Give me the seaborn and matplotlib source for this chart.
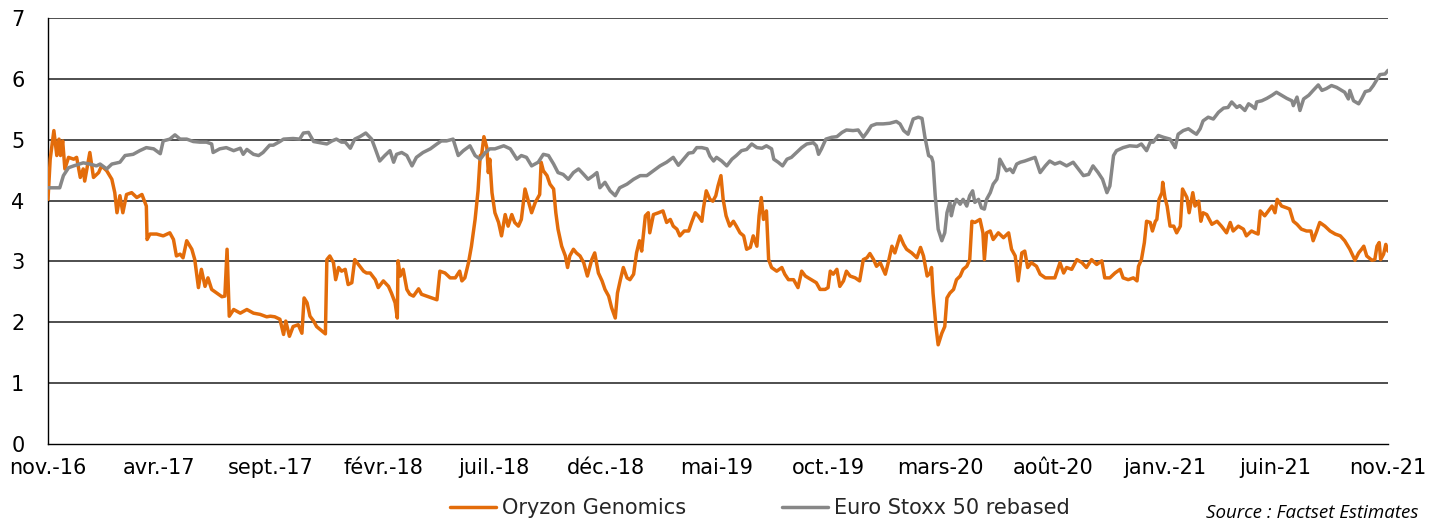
import matplotlib
matplotlib.use("Agg")
import matplotlib.pyplot as plt
import seaborn as sns
import pandas as pd
import numpy as np
from matplotlib.lines import Line2D

# ---------------- data (days since 2016-11-01, value) ----------------
oryzon = [
    (0,4.02),(3,4.68),(8,5.15),(12,4.74),(15,5.01),(17,4.74),(20,4.98),(23,4.52),(28,4.71),(35,4.68),(39,4.71),(44,4.38),(48,4.52),(50,4.32),(57,4.79),(62,4.38),(69,4.46),(73,4.57),(80,4.49),(87,4.35),(91,4.13),(94,3.80),(98,4.08),(102,3.80),(107,4.10),(114,4.13),(121,4.05),(128,4.10),(134,3.91),(135,3.36),(139,3.45),(148,3.45),(157,3.42),(166,3.47),(171,3.36),(175,3.09),(180,3.12),(184,3.06),(189,3.34),(196,3.20),(200,3.03),(205,2.57),(209,2.87),(214,2.59),(218,2.73),(223,2.54),(230,2.48),(237,2.42),(241,2.43),(244,3.20),(247,2.10),(253,2.21),(262,2.15),(271,2.21),(280,2.15),(289,2.13),(298,2.09),
    (303,2.10),(309,2.09),(316,2.05),(321,1.80),(324,2.02),(329,1.77),(334,1.93),(341,1.96),(346,1.82),(349,2.40),(353,2.32),(357,2.10),(362,2.02),(366,1.93),(371,1.88),(378,1.81),(380,3.03),(384,3.09),(389,2.98),(392,2.70),(396,2.90),(400,2.84),(405,2.87),(409,2.62),(414,2.65),(418,3.03),(423,2.95),(430,2.84),(434,2.81),(439,2.81),(446,2.70),(450,2.57),(457,2.68),(464,2.59),(468,2.48),(473,2.32),(476,2.07),(477,3.01),(480,2.76),(484,2.87),(489,2.54),(493,2.46),(498,2.43),(505,2.55),(509,2.46),(516,2.43),(523,2.40),(530,2.37),(534,2.84),(541,2.81),(548,2.73),(555,2.73),(561,2.84),(564,2.68),(568,2.73),(573,2.98),(577,3.25),(582,3.69),(586,4.16),(589,4.74),(591,4.76),(594,5.05),(598,4.87),(600,4.46),(602,4.68),
    (605,4.13),(609,3.80),(614,3.64),(618,3.42),(623,3.77),(627,3.58),(632,3.77),(636,3.64),(641,3.58),(645,3.69),(650,4.19),(655,3.97),(659,3.80),(664,3.97),(670,4.10),(672,4.63),(675,4.49),(680,4.41),(684,4.27),(689,4.19),(692,3.80),(695,3.53),(700,3.25),(705,3.09),(708,2.90),(711,3.09),(716,3.20),(720,3.14),(725,3.09),(730,2.98),(735,2.76),(741,3.03),(745,3.14),(750,2.81),(755,2.68),(759,2.54),(764,2.43),(768,2.24),(773,2.07),(776,2.48),(780,2.70),(784,2.90),(789,2.73),(793,2.70),(798,2.79),(802,3.14),(806,3.34),(809,3.17),(814,3.75),(818,3.80),(820,3.47),(825,3.77),(832,3.80),(838,3.83),(843,3.64),(848,3.69),(852,3.58),(857,3.53),(861,3.42),(867,3.50),(873,3.50),(877,3.64),(882,3.80),(886,3.75),(891,3.66),(893,3.86),(897,4.16),(902,4.02),
    (906,3.99),(910,4.08),(913,4.24),(917,4.41),(920,4.02),(924,3.75),(929,3.58),(934,3.66),(938,3.58),(943,3.47),(948,3.42),(952,3.20),(957,3.23),(961,3.42),(966,3.25),(969,3.75),(972,4.05),(975,3.69),(979,3.83),(982,3.03),(986,2.90),(993,2.84),(1000,2.90),(1004,2.79),(1009,2.70),(1016,2.70),(1022,2.57),(1027,2.84),(1032,2.76),(1036,2.73),(1043,2.68),(1047,2.65),(1052,2.54),(1059,2.54),(1063,2.57),(1066,2.84),(1070,2.79),(1075,2.87),(1079,2.59),(1084,2.68),(1088,2.84),(1093,2.76),(1100,2.73),(1106,2.68),(1111,3.03),(1116,3.06),(1120,3.13),(1125,3.03),(1129,2.92),(1134,2.98),(1141,2.79),(1145,2.98),(1150,3.25),(1154,3.14),(1161,3.42),(1166,3.28),(1170,3.20),(1177,3.14),(1184,3.06),(1189,3.23),(1193,3.09),(1198,2.76),(1202,2.81),
    (1204,2.90),(1206,2.48),(1210,1.93),(1213,1.63),(1218,1.82),(1222,1.93),(1225,2.40),(1229,2.48),(1234,2.54),(1238,2.70),(1243,2.76),(1247,2.87),(1252,2.92),(1256,3.03),(1259,3.66),(1263,3.64),(1270,3.69),(1274,3.47),(1276,3.03),(1279,3.47),(1284,3.50),(1288,3.36),(1295,3.47),(1302,3.39),(1309,3.47),(1313,3.20),(1318,3.09),(1322,2.68),(1327,3.14),(1331,3.17),(1335,2.90),(1340,2.98),(1347,2.92),(1352,2.79),(1359,2.73),(1365,2.73),(1372,2.73),(1379,2.98),(1384,2.81),(1388,2.90),(1395,2.87),(1402,3.03),(1409,2.98),(1415,2.90),(1422,3.03),(1429,2.95),(1436,3.01),(1440,2.73),(1447,2.73),(1454,2.81),(1461,2.87),(1465,2.73),(1472,2.70),(1479,2.73),(1484,2.68),(1486,2.92),(1490,3.03),(1494,3.31),(1497,3.66),(1502,3.64),
    (1505,3.50),(1509,3.66),(1511,3.69),(1514,4.02),(1518,4.13),(1519,4.30),(1522,4.05),(1525,3.91),(1529,3.58),(1534,3.58),(1538,3.47),(1543,3.58),(1546,4.19),(1552,4.05),(1555,3.80),(1560,4.13),(1563,3.91),(1568,3.99),(1571,3.66),(1574,3.80),(1579,3.77),(1586,3.61),(1593,3.66),(1599,3.58),(1606,3.47),(1611,3.64),(1615,3.50),(1622,3.58),(1629,3.53),(1633,3.42),(1640,3.50),(1645,3.47),(1649,3.45),(1652,3.83),(1658,3.75),(1663,3.83),(1668,3.91),(1672,3.80),(1675,4.02),(1681,3.91),(1688,3.88),(1692,3.86),(1697,3.66),(1702,3.61),(1708,3.53),(1715,3.50),(1721,3.50),(1724,3.34),(1729,3.50),(1733,3.64),(1740,3.58),(1747,3.50),(1754,3.45),(1761,3.42),(1767,3.34),(1774,3.20),(1781,3.02),(1786,3.14),(1790,3.20),(1793,3.25),(1797,3.09),(1804,3.02),(1808,3.03),(1811,3.25),(1814,3.31),(1816,3.03),(1820,3.12),(1823,3.28),(1826,3.17),
]

eurostoxx = [
    (0,4.21),(16,4.21),(21,4.41),(28,4.54),(35,4.57),(48,4.62),(57,4.60),(66,4.57),(71,4.60),(80,4.52),(87,4.60),(98,4.63),(105,4.74),(116,4.76),(125,4.82),(134,4.87),(144,4.85),(153,4.77),(157,4.98),(166,5.01),(173,5.08),(180,5.01),(189,5.01),(198,4.97),(207,4.96),(216,4.96),(223,4.93),(225,4.79),(234,4.85),(243,4.87),(253,4.82),(262,4.86),(266,4.76),(271,4.84),(280,4.76),(287,4.74),(293,4.79),(302,4.91),
    (307,4.91),(316,4.97),(321,5.01),(334,5.02),(343,5.01),(348,5.11),(355,5.12),(362,4.97),(371,4.95),(380,4.93),(387,4.98),(393,5.01),(400,4.96),(405,4.96),(412,4.86),(418,5.01),(425,5.05),(433,5.11),(441,5.01),(446,4.85),(452,4.65),(459,4.74),(466,4.82),(471,4.63),(475,4.76),(482,4.79),(489,4.74),(496,4.57),(502,4.71),(511,4.79),(521,4.85),(530,4.93),(536,4.98),(543,4.98),(552,5.01),(559,4.74),(566,4.82),(575,4.90),(582,4.74),(589,4.68),(596,4.79),(602,4.85),
    (609,4.85),(621,4.90),(630,4.85),(639,4.68),(645,4.74),(652,4.71),(659,4.57),(668,4.63),(675,4.76),(682,4.74),(689,4.60),(695,4.46),(702,4.43),(709,4.35),(716,4.46),(723,4.52),(730,4.43),(736,4.35),(743,4.41),(748,4.46),(752,4.21),(759,4.30),(766,4.16),(773,4.08),(779,4.21),(789,4.27),(798,4.35),(807,4.41),(816,4.41),(825,4.49),(834,4.57),(843,4.63),(852,4.71),(859,4.58),(866,4.68),(873,4.78),(879,4.79),(884,4.87),(891,4.87),(898,4.85),(902,4.73),
    (907,4.65),(911,4.71),(918,4.65),(925,4.57),(932,4.68),(938,4.74),(945,4.82),(952,4.84),(959,4.93),(966,4.87),(973,4.86),(979,4.90),(986,4.85),(989,4.68),(995,4.63),(1001,4.57),(1007,4.68),(1013,4.71),(1020,4.79),(1027,4.87),(1034,4.93),(1043,4.95),(1047,4.90),(1050,4.76),(1054,4.85),(1060,5.01),(1068,5.04),(1075,5.05),(1082,5.12),(1088,5.16),(1097,5.15),(1104,5.16),(1111,5.04),(1116,5.12),(1122,5.23),(1129,5.26),(1138,5.26),(1147,5.27),(1156,5.30),(1161,5.26),(1166,5.15),(1172,5.09),(1179,5.34),(1186,5.37),(1191,5.35),
    (1195,5.04),(1200,4.74),(1204,4.71),(1206,4.63),(1209,4.08),(1213,3.53),(1218,3.34),(1222,3.47),(1225,3.80),(1229,3.97),(1231,3.75),(1234,3.91),(1238,4.02),(1243,3.94),(1247,4.02),(1252,3.91),(1256,4.08),(1260,4.16),(1263,3.97),(1268,4.02),(1272,3.88),(1276,3.86),(1279,4.02),(1284,4.13),(1288,4.27),(1293,4.35),(1295,4.46),(1297,4.68),(1302,4.57),(1306,4.49),(1311,4.52),(1315,4.46),(1320,4.60),(1325,4.63),(1331,4.65),(1338,4.68),(1345,4.71),(1352,4.46),(1359,4.57),(1365,4.65),(1372,4.60),(1379,4.63),(1388,4.57),(1397,4.63),(1404,4.52),(1411,4.41),(1418,4.43),(1424,4.57),(1431,4.46),(1437,4.35),(1443,4.13),(1447,4.24),(1452,4.74),(1456,4.82),(1465,4.87),(1474,4.90),(1484,4.89),(1490,4.93),(1497,4.82),(1502,4.96),
    (1506,4.96),(1513,5.07),(1520,5.04),(1529,5.01),(1536,4.87),(1540,5.09),(1547,5.15),(1554,5.18),(1561,5.12),(1565,5.09),(1570,5.18),(1574,5.31),(1581,5.37),(1588,5.34),(1595,5.45),(1602,5.52),(1608,5.53),(1613,5.62),(1620,5.53),(1624,5.56),(1631,5.48),(1636,5.59),(1640,5.56),(1645,5.51),(1647,5.62),(1654,5.64),(1661,5.68),(1668,5.73),(1674,5.78),(1681,5.73),(1688,5.68),(1695,5.64),(1697,5.56),(1702,5.70),(1706,5.48),(1711,5.67),(1718,5.73),(1724,5.81),(1731,5.90),(1736,5.81),(1742,5.84),(1749,5.89),(1756,5.86),(1763,5.81),(1767,5.78),(1772,5.67),(1774,5.81),(1779,5.64),(1786,5.59),(1790,5.67),(1795,5.79),(1801,5.81),(1806,5.89),(1811,5.99),(1815,6.07),(1822,6.08),(1826,6.14),
]

start_date = "2016-11-01"
tick_dates = ["2016-11-01", "2017-04-01", "2017-09-01", "2018-02-01", "2018-07-01",
              "2018-12-01", "2019-05-01", "2019-10-01", "2020-03-01", "2020-08-01",
              "2021-01-01", "2021-06-01", "2021-11-01"]
tick_labels = ["nov.-16", "avr.-17", "sept.-17", "févr.-18", "juil.-18", "déc.-18",
               "mai-19", "oct.-19", "mars-20", "août-20", "janv.-21", "juin-21", "nov.-21"]
series_names = ["Oryzon Genomics", "Euro Stoxx 50 rebased"]
series_colors = ["#E36C0A", "#878787"]
y_ticks = [0, 1, 2, 3, 4, 5, 6, 7]

# ---------------- build frame ----------------
frames = []
for name, pts in zip(series_names, [oryzon, eurostoxx]):
    d = pd.DataFrame(pts, columns=["day", "value"])
    d["date"] = pd.Timestamp(start_date) + pd.to_timedelta(d["day"], unit="D")
    d["series"] = name
    frames.append(d)
df = pd.concat(frames, ignore_index=True)

sns.set_style("white")
plt.rcParams["font.family"] = ["DejaVu Sans"]

fig = plt.figure(figsize=(14.49, 5.21), dpi=100)
ax = fig.add_axes([48/1449, 77/521, 1340/1449, 426/521])

# gridlines (drawn under lines)
for yv in y_ticks[1:]:
    ax.axhline(yv, color="#404040", lw=1.3, zorder=1)

palette = dict(zip(series_names, series_colors))
sns.lineplot(data=df, x="date", y="value", hue="series", palette=palette,
             estimator=None, sort=False, linewidth=2.5, legend=False, ax=ax, zorder=3)

ax.set_xlim(pd.Timestamp(tick_dates[0]), pd.Timestamp(tick_dates[-1]))
ax.set_ylim(0, 7)
ax.set_xticks([pd.Timestamp(t) for t in tick_dates])
ax.set_xticklabels(tick_labels)
ax.set_yticks(y_ticks)
ax.set_yticklabels([str(v) for v in y_ticks])
ax.set_xlabel("")
ax.set_ylabel("")

for s in ["top", "right"]:
    ax.spines[s].set_visible(False)
for s in ["left", "bottom"]:
    ax.spines[s].set_color("#000000")
    ax.spines[s].set_linewidth(1.0)

ax.tick_params(axis="x", direction="out", length=5, width=1.0, color="#000000",
               pad=5, labelsize=15, labelcolor="#000000")
ax.tick_params(axis="y", length=0, pad=17, labelsize=15, labelcolor="#000000")
ax.grid(False)

handles = [Line2D([0], [0], color=c, lw=2.5) for c in series_colors]
fig.legend(handles, series_names, loc="center", bbox_to_anchor=(760/1449, 1 - 508/521),
           ncol=2, frameon=False, fontsize=15, handlelength=2.2, handletextpad=0.3,
           columnspacing=4.6)

fig.text(1418/1449, 1 - 513/521, "Source : Factset Estimates", ha="right", va="center",
         fontsize=13.5, style="italic", family=["Open Sans", "DejaVu Sans"], color="#000000")

fig.savefig("out.png", dpi=100)
